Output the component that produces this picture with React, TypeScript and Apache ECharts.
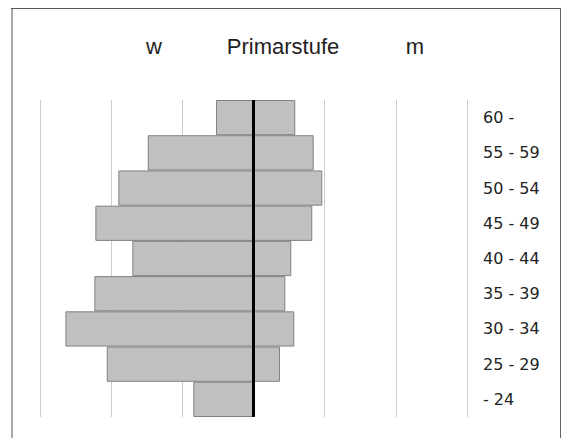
import React, { useEffect, useRef } from "react";
import * as echarts from "echarts";

const categories = ["- 24", "25 - 29", "30 - 34", "35 - 39", "40 - 44", "45 - 49", "50 - 54", "55 - 59", "60 -"];
const women = [8.46, 20.62, 26.43, 22.36, 17.02, 22.22, 18.99, 14.86, 5.27];
const men = [0, 3.72, 5.73, 4.47, 5.31, 8.26, 9.66, 8.46, 5.87];
const titleLeft = "w";
const titleMain = "Primarstufe";
const titleRight = "m";

export default function App() {
  const ref = useRef<HTMLDivElement>(null);
  useEffect(() => {
    if (!ref.current) return;
    const chart = echarts.init(ref.current, null, { renderer: "svg" });
    const barStyle = { color: "#c0c0c0", borderColor: "#808080", borderWidth: 1 };
    const titleStyle = { fontFamily: "Liberation Sans", fontSize: 22, fill: "#222222", align: "center", verticalAlign: "middle" };
    chart.setOption({
      animation: false,
      backgroundColor: "#ffffff",
      grid: { left: 40, right: 96, top: 100, bottom: 21, containLabel: false },
      xAxis: {
        type: "value",
        min: -30,
        max: 30,
        interval: 10,
        axisLabel: { show: false },
        axisLine: { show: false },
        axisTick: { show: false },
        splitLine: { show: true, lineStyle: { color: "#cccccc", width: 1 } },
      },
      yAxis: {
        type: "category",
        data: categories,
        position: "right",
        axisLine: { show: false, onZero: false },
        axisTick: { show: false },
        splitLine: { show: false },
        axisLabel: {
          margin: 16,
          align: "left",
          color: "#222222",
          fontFamily: "DejaVu Sans",
          fontSize: 16,
        },
      },
      series: [
        {
          name: "w",
          type: "bar",
          data: women.map((v) => -v),
          barCategoryGap: 0,
          barGap: "-100%",
          itemStyle: barStyle,
          silent: true,
        },
        {
          name: "m",
          type: "bar",
          data: men,
          barCategoryGap: 0,
          barGap: "-100%",
          itemStyle: barStyle,
          silent: true,
          markLine: {
            silent: true,
            symbol: "none",
            label: { show: false },
            lineStyle: { color: "#000000", width: 3, type: "solid" },
            data: [{ xAxis: 0 }],
          },
        },
      ],
      graphic: [
        {
          type: "line",
          shape: { x1: 12, y1: 8, x2: 12, y2: 438 },
          style: { stroke: "#a8a8a8", lineWidth: 2 },
          silent: true,
        },
        {
          type: "line",
          shape: { x1: 11, y1: 8.5, x2: 561, y2: 8.5 },
          style: { stroke: "#595959", lineWidth: 1 },
          silent: true,
        },
        {
          type: "line",
          shape: { x1: 560.5, y1: 8, x2: 560.5, y2: 438 },
          style: { stroke: "#666666", lineWidth: 1 },
          silent: true,
        },
        { type: "text", x: 154, y: 46, style: { ...titleStyle, text: titleLeft } },
        { type: "text", x: 283, y: 46, style: { ...titleStyle, text: titleMain } },
        { type: "text", x: 415, y: 46, style: { ...titleStyle, text: titleRight } },
      ],
    });
    return () => chart.dispose();
  }, []);
  return (
    <div
      ref={ref}
      style={{ position: "fixed", left: 0, top: 0, width: 563, height: 438 }}
    />
  );
}
